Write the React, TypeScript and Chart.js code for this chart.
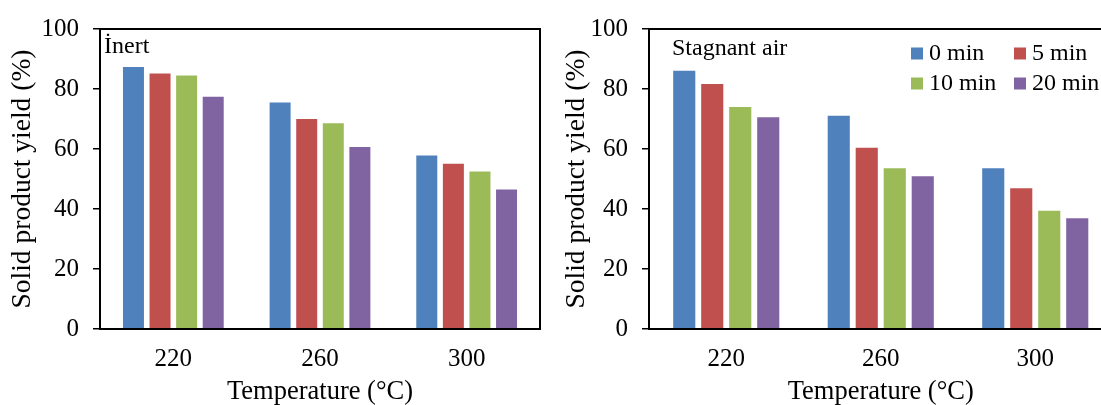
import React, { useEffect, useRef } from 'react';
import { Chart, registerables } from 'chart.js';

Chart.register(...registerables);

const categories = ['220', '260', '300'];
const seriesLabels = ['0 min', '5 min', '10 min', '20 min'];
const seriesColors = ['#4F81BD', '#C0504D', '#9BBB59', '#8064A2'];

const inert0 = [87.3, 75.5, 57.8];
const inert5 = [85.2, 70.0, 55.1];
const inert10 = [84.5, 68.6, 52.5];
const inert20 = [77.4, 60.7, 46.5];

const air0 = [86.1, 71.1, 53.6];
const air5 = [81.7, 60.4, 46.9];
const air10 = [74.0, 53.6, 39.4];
const air20 = [70.6, 50.9, 36.9];

const yMin = 0;
const yMax = 100;
const yStep = 20;

const xTitle = 'Temperature (°C)';
const yTitle = 'Solid product yield (%)';

const FONT = '"Liberation Serif", "Times New Roman", serif';

type PanelCfg = {
  series: number[][];
  label: string;
  labelX: number;
  labelY: number;
  yAxisWidth: number;
  yTitlePad: number;
  padRight: number;
  legend: boolean;
};

function makeChart(canvas: HTMLCanvasElement, cfg: PanelCfg) {
  const boxPlugin = {
    id: 'boxPlugin',
    afterDraw(chart: any) {
      const { ctx, chartArea } = chart;
      ctx.save();
      ctx.strokeStyle = '#000';
      ctx.lineWidth = 2;
      ctx.strokeRect(chartArea.left, chartArea.top, chartArea.right - chartArea.left, chartArea.bottom - chartArea.top);
      ctx.restore();
    },
  };
  const textPlugin = {
    id: 'textPlugin',
    afterDraw(chart: any) {
      const { ctx } = chart;
      ctx.save();
      ctx.fillStyle = '#000';
      ctx.font = `24px ${FONT}`;
      ctx.textAlign = 'left';
      ctx.textBaseline = 'alphabetic';
      ctx.fillText(cfg.label, cfg.labelX, cfg.labelY);
      if (cfg.legend) {
        const ds = chart.data.datasets;
        const colX = [361, 464];
        const rowY = [60, 90];
        for (let i = 0; i < ds.length; i++) {
          const cx = colX[i % 2];
          const ry = rowY[Math.floor(i / 2)];
          ctx.fillStyle = ds[i].backgroundColor;
          ctx.fillRect(cx, ry - 12.5, 12, 12);
          ctx.fillStyle = '#000';
          ctx.fillText(ds[i].label, cx + 18, ry);
        }
      }
      ctx.restore();
    },
  };

  return new Chart(canvas, {
    type: 'bar',
    data: {
      labels: categories,
      datasets: cfg.series.map((d, i) => ({
        label: seriesLabels[i],
        data: d,
        backgroundColor: seriesColors[i],
        borderWidth: 0,
        categoryPercentage: 0.725,
        barPercentage: 0.79,
      })),
    },
    options: {
      responsive: true,
      maintainAspectRatio: false,
      animation: false,
      devicePixelRatio: 1,
      layout: { padding: { left: 0, right: cfg.padRight, top: 23, bottom: 0 } },
      plugins: {
        legend: { display: false },
        tooltip: { enabled: false },
      },
      scales: {
        x: {
          ticks: { font: { family: FONT, size: 25 }, color: '#000', padding: 15 },
          grid: { display: false, drawTicks: false },
          border: { display: true, color: '#000', width: 2 },
          title: {
            display: true,
            text: xTitle,
            color: '#000',
            font: { family: FONT, size: 26.5, lineHeight: 1 },
            padding: { top: 0, bottom: 0 },
          },
          afterFit: (s: any) => {
            s.height = 76;
          },
        },
        y: {
          min: yMin,
          max: yMax,
          ticks: { stepSize: yStep, font: { family: FONT, size: 25 }, color: '#000', padding: 14 },
          grid: { drawOnChartArea: false, drawTicks: true, tickLength: 7, color: '#000', lineWidth: 1.5 },
          border: { display: true, color: '#000', width: 2 },
          title: {
            display: true,
            text: yTitle,
            color: '#000',
            font: { family: FONT, size: 27.5, lineHeight: 1 },
            padding: { top: cfg.yTitlePad, bottom: 0 },
          },
          afterFit: (s: any) => {
            s.width = cfg.yAxisWidth;
          },
        },
      },
    },
    plugins: [boxPlugin, textPlugin],
  } as any);
}

function Panel({ cfg, left, width }: { cfg: PanelCfg; left: number; width: number }) {
  const ref = useRef<HTMLCanvasElement | null>(null);
  useEffect(() => {
    if (!ref.current) return;
    const chart = makeChart(ref.current, cfg);
    return () => chart.destroy();
  }, []);
  return (
    <div style={{ position: 'absolute', left, top: 0, width, height: 405 }}>
      <canvas ref={ref} />
    </div>
  );
}

const inertCfg: PanelCfg = {
  series: [inert0, inert5, inert10, inert20],
  label: 'İnert',
  labelX: 104,
  labelY: 53,
  yAxisWidth: 100,
  yTitlePad: 9,
  padRight: 10,
  legend: false,
};

const airCfg: PanelCfg = {
  series: [air0, air5, air10, air20],
  label: 'Stagnant air',
  labelX: 122,
  labelY: 55,
  yAxisWidth: 99,
  yTitlePad: 13,
  padRight: 37.5,
  legend: true,
};

export default function App() {
  return (
    <div
      style={{
        position: 'absolute',
        left: 0,
        top: 0,
        width: 1101,
        height: 405,
        overflow: 'hidden',
        background: '#fff',
      }}
    >
      <Panel cfg={inertCfg} left={0} width={550} />
      <Panel cfg={airCfg} left={550} width={600} />
    </div>
  );
}
